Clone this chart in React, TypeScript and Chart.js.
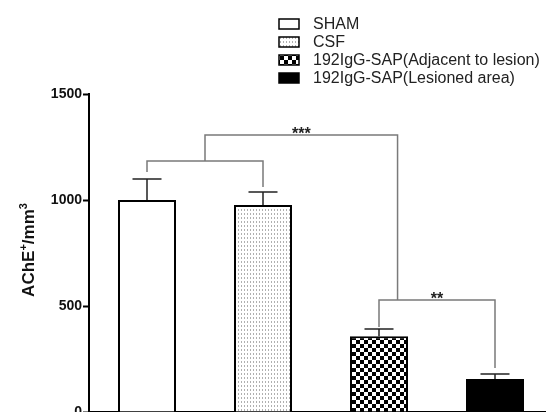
import React, { useEffect, useRef } from 'react';
import { Chart, registerables } from 'chart.js';

Chart.register(...registerables);

const categories = ['SHAM', 'CSF', '192IgG-SAP(Adjacent to lesion)', '192IgG-SAP(Lesioned area)'];
const means = [1000, 976, 357, 156];
const sems = [99, 62, 34, 23];
const patternKinds = ['white', 'dots', 'checker', 'black'];
const yTickValues = [0, 500, 1000, 1500];
const yTitleParts = ['AChE', '+', '/mm', '3'];

// significance brackets (x in category index units, y in data units)
const bracketFrom = [0, 0.5, 2];
const bracketTo = [1, 2.16, 3];
const bracketLevel = [1184, 1307, 528];
const bracketFootFrom = [1132, 1184, 401];
const bracketFootTo = [1061, 528, 208];
const bracketLabels = ['', '***', '**'];

const FONT = '"Liberation Sans", Arial, Helvetica, sans-serif';

function makeFill(kind: string): any {
  if (kind === 'white') return '#ffffff';
  if (kind === 'black') return '#000000';
  const c = document.createElement('canvas');
  const x = c.getContext('2d')!;
  if (kind === 'dots') {
    c.width = 3;
    c.height = 4;
    x.fillStyle = '#ffffff';
    x.fillRect(0, 0, 3, 4);
    x.fillStyle = '#b0b0b0';
    x.fillRect(1, 1, 1, 2);
  } else {
    c.width = 8;
    c.height = 8;
    x.fillStyle = '#ffffff';
    x.fillRect(0, 0, 8, 8);
    x.fillStyle = '#000000';
    x.fillRect(0, 0, 4, 4);
    x.fillRect(4, 4, 4, 4);
  }
  return x.createPattern(c, 'repeat');
}

export default function App() {
  const ref = useRef<HTMLCanvasElement>(null);

  useEffect(() => {
    const canvas = ref.current!;
    const fills = patternKinds.map(makeFill);

    const overlay = {
      id: 'overlay',
      afterDatasetsDraw(chart: any) {
        const ctx = chart.ctx;
        const xs = chart.scales.x;
        const ys = chart.scales.y;
        const meta = chart.getDatasetMeta(0);
        ctx.save();
        // error bars (upper only)
        ctx.strokeStyle = '#222';
        ctx.lineWidth = 1.5;
        means.forEach((m, i) => {
          const el = meta.data[i];
          const cx = el.x;
          const half = el.width / 4;
          const yTop = ys.getPixelForValue(m + sems[i]);
          const yBar = ys.getPixelForValue(m);
          ctx.beginPath();
          ctx.moveTo(cx, yBar);
          ctx.lineTo(cx, yTop);
          ctx.moveTo(cx - half, yTop);
          ctx.lineTo(cx + half, yTop);
          ctx.stroke();
        });
        // brackets
        const step = xs.getPixelForValue(1) - xs.getPixelForValue(0);
        const x0 = xs.getPixelForValue(0);
        ctx.strokeStyle = '#7a7a7a';
        ctx.lineWidth = 1.5;
        bracketFrom.forEach((f, i) => {
          const xa = x0 + f * step;
          const xb = x0 + bracketTo[i] * step;
          const yl = ys.getPixelForValue(bracketLevel[i]);
          const ya = ys.getPixelForValue(bracketFootFrom[i]);
          const yb = ys.getPixelForValue(bracketFootTo[i]);
          ctx.beginPath();
          ctx.moveTo(xa, ya);
          ctx.lineTo(xa, yl);
          ctx.lineTo(xb, yl);
          ctx.lineTo(xb, yb);
          ctx.stroke();
          if (bracketLabels[i]) {
            ctx.fillStyle = '#222';
            ctx.font = `bold 16px ${FONT}`;
            ctx.textAlign = 'center';
            ctx.textBaseline = 'alphabetic';
            ctx.fillText(bracketLabels[i], (xa + xb) / 2, yl + 4);
          }
        });
        ctx.restore();
      },
      afterDraw(chart: any) {
        const ctx = chart.ctx;
        ctx.save();
        // legend
        const lx = 279;
        const ly0 = 24;
        const dy = 18;
        categories.forEach((c, i) => {
          const cy = ly0 + i * dy;
          ctx.fillStyle = fills[i];
          ctx.fillRect(lx, cy - 5, 20, 10);
          ctx.strokeStyle = '#000';
          ctx.lineWidth = 1.5;
          ctx.strokeRect(lx, cy - 5, 20, 10);
          ctx.fillStyle = '#222';
          ctx.font = `16px ${FONT}`;
          ctx.textAlign = 'left';
          ctx.textBaseline = 'middle';
          ctx.fillText(c, 313, cy + 1);
        });
        // y title with superscripts, rotated
        ctx.translate(34, 250);
        ctx.rotate(-Math.PI / 2);
        const big = `bold 17px ${FONT}`;
        const small = `bold 11px ${FONT}`;
        let total = 0;
        yTitleParts.forEach((p, i) => {
          ctx.font = i % 2 === 0 ? big : small;
          total += ctx.measureText(p).width;
        });
        let x = -total / 2;
        ctx.fillStyle = '#111';
        ctx.textAlign = 'left';
        ctx.textBaseline = 'alphabetic';
        yTitleParts.forEach((p, i) => {
          const sup = i % 2 === 1;
          ctx.font = sup ? small : big;
          ctx.fillText(p, x, sup ? -7 : 0);
          x += ctx.measureText(p).width;
        });
        ctx.restore();
      },
    };

    const chart = new Chart(canvas, {
      type: 'bar',
      data: {
        labels: categories,
        datasets: [
          {
            label: 'AChE',
            data: means,
            backgroundColor: fills,
            borderColor: '#000',
            borderWidth: 2,
            barPercentage: 0.5,
            categoryPercentage: 1,
          },
        ],
      },
      options: {
        animation: false,
        responsive: false,
        devicePixelRatio: 1,
        layout: { padding: { top: 94, right: 17, bottom: 8, left: 0 } },
        plugins: { legend: { display: false }, tooltip: { enabled: false } },
        scales: {
          x: {
            grid: { display: false },
            border: { display: true, color: '#000', width: 2 },
            ticks: { display: false },
            afterFit: (s: any) => {
              s.height = 20;
            },
          },
          y: {
            min: 0,
            max: 1500,
            afterBuildTicks: (s: any) => {
              s.ticks = yTickValues.map((v) => ({ value: v }));
            },
            grid: {
              display: true,
              drawOnChartArea: false,
              drawTicks: true,
              tickLength: 6,
              tickWidth: 2,
              tickColor: '#000',
            },
            border: { display: true, color: '#000', width: 2 },
            ticks: {
              color: '#111',
              padding: 1,
              font: { family: FONT, size: 14, weight: 'bold' },
              callback: (v: any) => String(v),
            },
            afterFit: (s: any) => {
              s.width = 89;
            },
          },
        },
      },
      plugins: [overlay],
    } as any);
    return () => chart.destroy();
  }, []);

  return (
    <div
      style={{
        position: 'fixed',
        left: 0,
        top: 0,
        width: 546,
        height: 412,
        overflow: 'hidden',
        background: '#fff',
      }}
    >
      <canvas ref={ref} width={570} height={440} style={{ width: 570, height: 440, display: 'block' }} />
    </div>
  );
}
